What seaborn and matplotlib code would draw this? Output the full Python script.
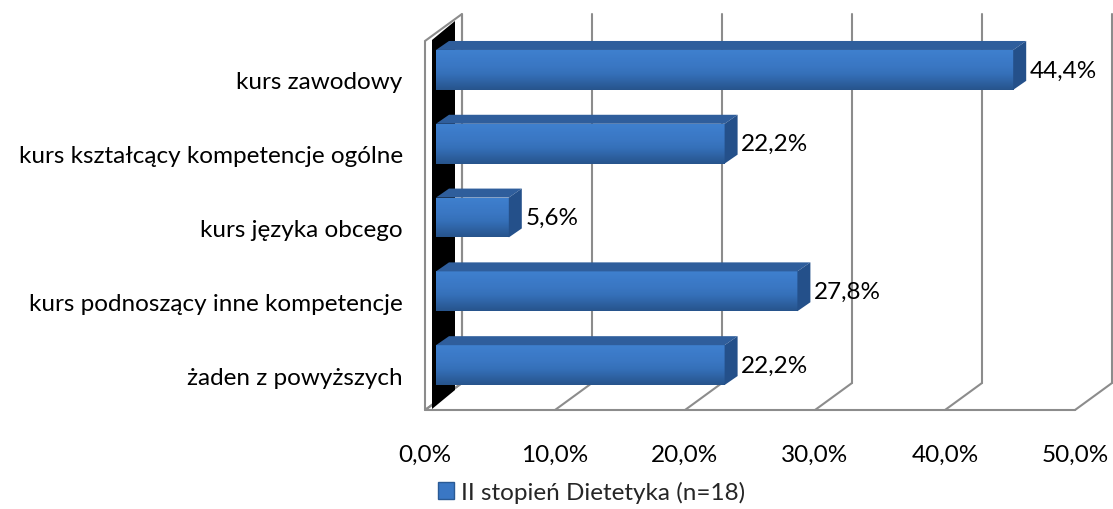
import numpy as np
import pandas as pd
import matplotlib
matplotlib.use("Agg")
import matplotlib.pyplot as plt
import seaborn as sns
from matplotlib.transforms import IdentityTransform, ScaledTranslation
from matplotlib.patches import Polygon, Patch
from matplotlib.lines import Line2D
from matplotlib.colors import LinearSegmentedColormap

# data
categories = ["kurs zawodowy", "kurs kształcący kompetencje ogólne",
              "kurs języka obcego", "kurs podnoszący inne kompetencje",
              "żaden z powyższych"]
values = [44.4, 22.2, 5.6, 27.8, 22.2]
value_labels = ["44,4%", "22,2%", "5,6%", "27,8%", "22,2%"]
x_ticks = [0, 10, 20, 30, 40, 50]
x_tick_labels = ["0,0%", "10,0%", "20,0%", "30,0%", "40,0%", "50,0%"]
series_name = "II stopień Dietetyka (n=18)"

df = pd.DataFrame({"kategoria": categories, "procent": values})

sns.set_theme(style="white")
plt.rcParams["font.family"] = ["Lato", "DejaVu Sans"]
FS = 17.5

W, H, DPI = 1113, 510, 100
fig = plt.figure(figsize=(W / DPI, H / DPI), dpi=DPI)
fig.patch.set_facecolor("white")
ax = fig.add_axes([436 / W, 107 / H, 650 / W, 369 / H])

sns.barplot(data=df, x="procent", y="kategoria", orient="h", color="#3A77C4",
            width=0.54, saturation=1, ax=ax, zorder=3, linewidth=0)
bars = list(ax.containers[0])
ax.set_xlim(0, 50)
ax.set_ylim(4.5, -0.5)
ax.set_facecolor("none")
for s in ax.spines.values():
    s.set_visible(False)

# pseudo-3D offsets in pixels (dx right, dy down) relative to bar front plane
FRONT = (-11, 8)
BACK = (26, -19)
DEPTH = (13, -9)
BLACK_FRONT = (-4, 7)
BLACK_BACK = (19, -12)
grid_c = "#8C8C8C"
ident = IdentityTransform()


def px(x, y, off=(0, 0)):
    X, Y = ax.transData.transform((x, y))
    return (X + off[0], Y - off[1])


y_top, y_bot = -0.5, 4.5

# left wall and its dark strip
wall = Polygon([px(0, y_bot, FRONT), px(0, y_top, FRONT), px(0, y_top, BACK), px(0, y_bot, BACK)],
               closed=True, fc="white", ec=grid_c, lw=1.5, transform=ident, clip_on=False, zorder=0.5)
ax.add_artist(wall)
dark = Polygon([px(0, y_bot, BLACK_FRONT), px(0, y_top, BLACK_FRONT),
                px(0, y_top, BLACK_BACK), px(0, y_bot, BLACK_BACK)],
               closed=True, fc="black", ec="none", transform=ident, clip_on=False, zorder=0.7)
ax.add_artist(dark)

# back wall gridlines and floor lines
for t in x_ticks:
    for a, b in [(px(t, y_bot, BACK), px(t, y_top, BACK)),
                 (px(t, y_bot, FRONT), px(t, y_bot, BACK))]:
        ax.add_line(Line2D([a[0], b[0]], [a[1], b[1]], color=grid_c, lw=1.5,
                           transform=ident, clip_on=False, zorder=0.6))
a, b = px(0, y_bot, FRONT), px(x_ticks[-1], y_bot, FRONT)
ax.add_line(Line2D([a[0], b[0]], [a[1], b[1]], color=grid_c, lw=1.5,
                   transform=ident, clip_on=False, zorder=0.6))

# bar shading
cmap = LinearSegmentedColormap.from_list(
    "bar", ["#3F80CE", "#3C7BC9", "#3A77C3", "#3570B9", "#2E62A3", "#27548C"])
grad = np.linspace(0, 1, 64).reshape(-1, 1)
for p in bars:
    x0, w, yb, h = p.get_x(), p.get_width(), p.get_y(), p.get_height()
    im = ax.imshow(grad, cmap=cmap, extent=(x0, x0 + w, yb + h, yb), origin="upper",
                   aspect="auto", zorder=3.1, interpolation="bilinear")
    im.set_clip_path(p)
    (L, B), (R, T) = np.sort(ax.transData.transform([(x0, yb), (x0 + w, yb + h)]), axis=0)
    top = Polygon([(L, T), (R, T), (R + DEPTH[0], T - DEPTH[1]), (L + DEPTH[0], T - DEPTH[1])],
                  closed=True, fc="#2F5E9C", ec="none", transform=ident, clip_on=False, zorder=3.2)
    side = Polygon([(R, B), (R, T), (R + DEPTH[0], T - DEPTH[1]), (R + DEPTH[0], B - DEPTH[1])],
                   closed=True, fc="#24508A", ec="none", transform=ident, clip_on=False, zorder=3.2)
    ax.add_artist(top)
    ax.add_artist(side)

ax.set_xlim(0, 50)
ax.set_ylim(4.5, -0.5)

ax.bar_label(ax.containers[0], labels=value_labels, padding=12, fontsize=FS, color="black")

ax.set_xticks(x_ticks)
ax.set_xticklabels(x_tick_labels)
ax.tick_params(axis="x", length=0, pad=30, labelsize=FS, colors="black")
ax.tick_params(axis="y", length=0, pad=24, labelsize=FS, colors="black")
for lab in ax.get_xticklabels():
    lab.set_transform(lab.get_transform() + ScaledTranslation(FRONT[0] / DPI, 0, fig.dpi_scale_trans))
for lab in ax.get_yticklabels():
    lab.set_transform(lab.get_transform() + ScaledTranslation(0, -10 / DPI, fig.dpi_scale_trans))
ax.set_xlabel("")
ax.set_ylabel("")

fig.legend(handles=[Patch(fc="#3A77C4", ec="#2A5A95")], labels=[series_name],
           loc="center", bbox_to_anchor=(592 / W, 1 - 493 / H), frameon=False,
           handlelength=0.65, handleheight=0.65, handletextpad=0.3, fontsize=FS)

fig.savefig("out.png", dpi=DPI)
